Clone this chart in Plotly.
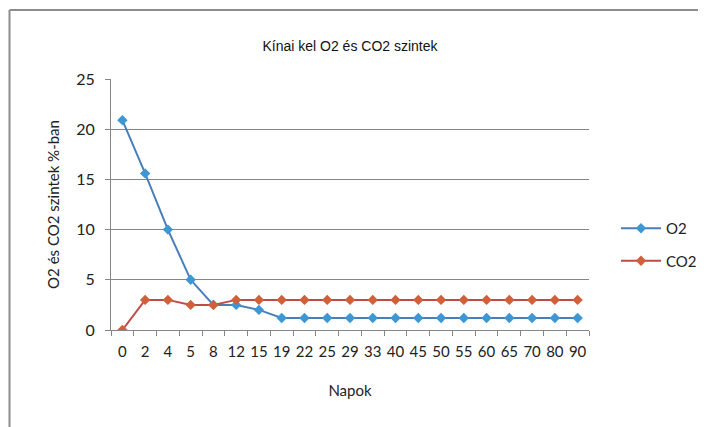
import plotly.graph_objects as go

napok = ["0", "2", "4", "5", "8", "12", "15", "19", "22", "25", "29", "33", "40", "45", "50", "55", "60", "65", "70", "80", "90"]
o2 = [20.9, 15.6, 10, 5, 2.5, 2.5, 2, 1.2, 1.2, 1.2, 1.2, 1.2, 1.2, 1.2, 1.2, 1.2, 1.2, 1.2, 1.2, 1.2, 1.2]
co2 = [0, 3, 3, 2.5, 2.5, 3, 3, 3, 3, 3, 3, 3, 3, 3, 3, 3, 3, 3, 3, 3, 3]

# page body has an 8px margin; work in window pixels and shift
OFF = 8
W, H = 706 - OFF, 427 - OFF
L, R, T, B = 111 - OFF, 589 - OFF, 79 - OFF, 330 - OFF

fig = go.Figure()
fig.add_trace(go.Scatter(
    x=napok, y=o2, name="O2", mode="lines+markers", legendgroup="a",
    line=dict(color="#4a7ebb", width=2),
    marker=dict(symbol="diamond", size=8, color="#3c97d4"),
))
fig.add_trace(go.Scatter(
    x=napok, y=co2, name="CO2", mode="lines+markers", legendgroup="b",
    line=dict(color="#be4b48", width=2),
    marker=dict(symbol="diamond", size=8, color="#d0603a"),
))

def px(x):
    return (x - OFF - L) / (R - L)

def py(y):
    return (B - (y - OFF)) / (B - T)

fig.update_layout(
    width=W, height=H,
    margin=dict(l=L, r=W - R, t=T, b=H - B, autoexpand=False),
    paper_bgcolor="white", plot_bgcolor="white",
    font=dict(family="Lato, Open Sans, sans-serif", size=14, color="#222"),
    title=dict(text="Kínai kel O2 és CO2 szintek", x=0.5, xref="paper",
               y=1 - (46 - OFF) / H, yanchor="middle",
               font=dict(family="Liberation Sans, Arial", size=14, color="#111")),
    showlegend=True,
    legend=dict(x=px(616), y=py(212), xanchor="left", yanchor="top",
                font=dict(size=15), itemwidth=40, tracegroupgap=10,
                traceorder="grouped", bgcolor="rgba(0,0,0,0)"),
    xaxis=dict(
        type="category", range=[-0.5, len(napok) - 0.5], automargin=False,
        showline=True, linecolor="#868686", linewidth=1,
        ticks="outside", ticklen=5, tickcolor="#868686", tickson="boundaries",
        showgrid=False, tickangle=0, ticklabelstandoff=8,
        title=dict(text="Napok", standoff=26, font=dict(size=15)),
        tickfont=dict(size=15),
    ),
    yaxis=dict(
        range=[0, 25], dtick=5, automargin=False,
        showline=True, linecolor="#868686", linewidth=1,
        ticks="outside", ticklen=5, tickcolor="#868686", ticklabelstandoff=7,
        showgrid=True, gridcolor="#868686", gridwidth=1, zeroline=False,
        title=dict(text="O2 és CO2 szintek %-ban", standoff=12, font=dict(size=15)),
        tickfont=dict(size=16),
    ),
    shapes=[
        dict(type="line", xref="paper", yref="paper",
             x0=px(9.5), x1=px(720), y0=py(10), y1=py(10),
             line=dict(color="#8c8c8c", width=2)),
        dict(type="line", xref="paper", yref="paper",
             x0=px(9.5), x1=px(9.5), y0=py(10), y1=py(440),
             line=dict(color="#8c8c8c", width=2)),
    ],
)

fig.write_html("out.html")
